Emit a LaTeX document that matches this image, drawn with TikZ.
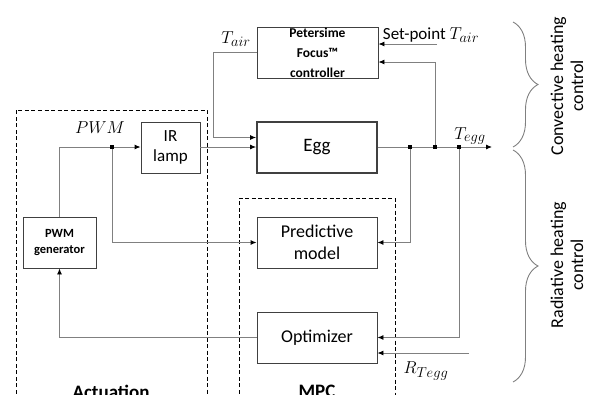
\documentclass[tikz,border=0pt]{standalone}
\usepackage{fontspec}
\setmainfont{Carlito}
\usetikzlibrary{arrows.meta,decorations.pathreplacing}

\tikzset{
    blk/.style={draw=black!75, line width=0.9pt, minimum width=120pt, minimum height=51pt,
        inner sep=0pt, align=center, font=\fontsize{18}{22}\selectfont},
    wire/.style={draw=black!50, line width=0.9pt},
    arr/.style={wire, -{Latex[black,length=6pt,width=5pt]}},
    jdot/.style={fill=black, inner sep=0pt, minimum size=4.5pt, rectangle},
    frame/.style={draw=black, line width=0.9pt, dash pattern=on 4pt off 2.5pt},
    lbl/.style={font=\fontsize{19}{22}\selectfont, inner sep=0pt},
    brc/.style={draw=black!50, line width=0.9pt, decorate, decoration={brace, amplitude=25pt}}
}

\begin{document}
\begin{tikzpicture}[x=1pt, y=-1pt]
    \useasboundingbox (0,0) rectangle (589,394);

    \draw[frame] (16,400) -- (16,110) -- (207,110) -- (207,400);
    \draw[frame] (239,400) -- (239,198) -- (395,198) -- (395,400);

    \node[blk, minimum width=121pt, font=\bfseries\fontsize{13.5}{20}\selectfont] (pet) at (317.5,52.5) {Petersime\\Focus™\\controller};
    \node[blk, line width=1.8pt, font=\fontsize{19}{22}\selectfont] (egg) at (317,147.5) {Egg};
    \node[blk, minimum width=59pt, font=\fontsize{17}{20}\selectfont] (ir) at (170.5,147.5) {IR\\lamp};
    \node[blk, minimum width=73pt, font=\bfseries\fontsize{12.5}{16}\selectfont] (pwm) at (59.5,242.5) {PWM\\generator};
    \node[blk] (pred) at (317,242.5) {Predictive\\model};
    \node[blk] (opt) at (317,337.5) {Optimizer};

    \coordinate (a) at (112,147);
    \coordinate (b) at (410,147);
    \coordinate (c) at (435,147);
    \coordinate (d) at (459,147);
    \coordinate (out) at (492,147);
    \coordinate (sp) at (437,44);
    \coordinate (r) at (469,353);

    \draw[arr] (pwm.north) |- (ir.west |- a);
    \draw[arr] (a) |- (pred.west);
    \draw[arr] (ir.east |- a) -- (egg.west |- a);
    \draw[arr] (pet.west) -- ++(-43,0) |- ([yshift=10pt]egg.west);
    \draw[arr] (egg.east |- out) -- (out);
    \draw[arr] (c) |- ([yshift=-9.5pt]pet.east);
    \draw[arr] (sp) -- (sp -| pet.east);
    \draw[arr] (b) |- (pred.east);
    \draw[arr] (d) |- (opt.east);
    \draw[arr] (r) -- (r -| opt.east);
    \draw[arr] (opt.west) -| (pwm.south);

    \node[jdot] at (a) {};
    \node[jdot] at (b) {};
    \node[jdot] at (c) {};
    \node[jdot] at (d) {};

    \node[lbl] (lpwm) at (100,128) {$PWM$};
    \node[lbl] (ltair) at (236,39) {$T_{air}$};
    \node[lbl] (ltegg) at (470,136) {$T_{egg}$};
    \node[lbl, font=\fontsize{17}{20}\selectfont] (lsp) at (431,35) {Set-point \fontsize{19}{22}\selectfont$T_{air}$};
    \node[lbl] (lr) at (426,371) {$R_{Tegg}$};

    \node[font=\bfseries\fontsize{19}{22}\selectfont, anchor=north] (lact) at (111,382) {Actuation};
    \node[font=\bfseries\fontsize{19}{22}\selectfont, anchor=north] (lmpc) at (317,382) {MPC};

    \draw[brc] (513,22) -- (513,147);
    \draw[brc] (513,150) -- (513,382);
    \node[rotate=90, align=center, font=\fontsize{18}{20}\selectfont] (lconv) at (567,86) {Convective heating\\control};
    \node[rotate=90, align=center, font=\fontsize{18}{20}\selectfont] (lrad) at (567,265) {Radiative heating\\control};
\end{tikzpicture}
\end{document}
